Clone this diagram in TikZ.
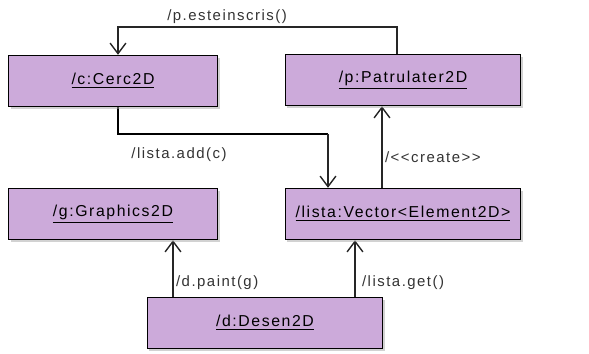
\documentclass[tikz,border=0pt]{standalone}
\usepackage{fontspec}
\setmainfont{Liberation Sans}[LetterSpace=10]
\usetikzlibrary{arrows.meta}
\usetikzlibrary{shadows}
\pgfdeclarelayer{edgelayer}
\pgfdeclarelayer{nodelayer}
\pgfsetlayers{edgelayer,nodelayer,main}
\definecolor{lilac}{RGB}{204,170,218}
\tikzstyle{object}=[rectangle,fill=lilac,draw=black,line width=0.8 pt,minimum height=29pt,font=\fontsize{9}{10}\selectfont,drop shadow={shadow xshift=1.2pt,shadow yshift=-1.2pt,fill=gray!70}]
\tikzstyle{label}=[font=\fontsize{8.5}{10}\selectfont,inner sep=1pt,text=black!80]
\tikzstyle{message}=[draw=black!85,line width=0.8 pt,-{Straight Barb[length=6pt,width=9pt,line width=0.8pt]}]

\begin{document}
\begin{tikzpicture}[x=0.02cm,y=-0.02cm]
					\useasboundingbox (0,0) rectangle (589,353);
					\begin{pgfonlayer}{nodelayer}
						\node [style=object,minimum width=119pt] (0) at (113,81) {\underline{/c:Cerc2D}};
						\node [style=object,minimum width=134pt] (1) at (403,80) {\underline{/p:Patrulater2D}};
						\node [style=object,minimum width=119pt] (2) at (113,214) {\underline{/g:Graphics2D}};
						\node [style=object,minimum width=134pt] (3) at (403,214) {\underline{/lista:Vector<Element2D>}};
						\node [style=object,minimum width=134pt] (4) at (265,323) {\underline{/d:Desen2D}};
						\coordinate (5) at (397,27);
						\coordinate (6) at (118,27);
						\coordinate (7) at (118,134);
						\coordinate (8) at (328,134);
						\coordinate (9) at (382,150);
						\coordinate (10) at (173,290);
						\coordinate (11) at (355,290);
						\node [style=label] (12) at (227,17) {/p.esteinscris()};
						\node [style=label] (13) at (179,155) {/lista.add(c)};
						\node [style=label,anchor=west] (14) at (383,157) {/{<}{<}create{>}{>}};
						\node [style=label,anchor=west] (15) at (174,283) {/d.paint(g)};
						\node [style=label,anchor=west] (16) at (360,283) {/lista.get()};
					\end{pgfonlayer}
					\begin{pgfonlayer}{edgelayer}
						\draw [style=message] (1.north -| 5) -- (5) -- (6) -- (0.north -| 6);
						\draw [line width=1.6pt] (0.south -| 7) -- (7) -- (8);
						\draw [style=message] (8) -- (3.north -| 8);
						\draw [style=message] (3.north -| 9) -- (1.south -| 9);
						\draw [style=message] (4.north -| 10) -- (2.south -| 10);
						\draw [style=message] (4.north -| 11) -- (3.south -| 11);
					\end{pgfonlayer}
				\end{tikzpicture}
\end{document}
